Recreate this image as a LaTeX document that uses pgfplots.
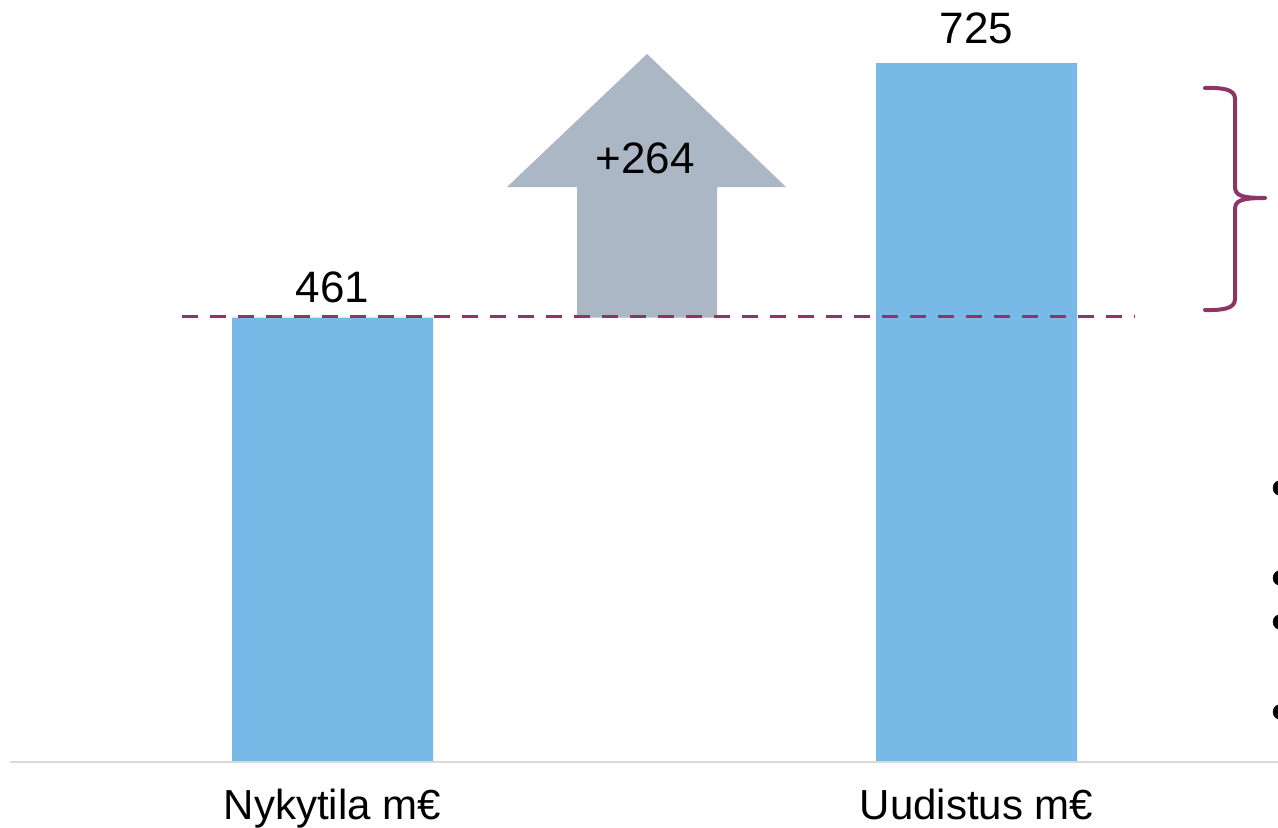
\documentclass[border=0pt]{standalone}
\usepackage{pgfplots}
\pgfplotsset{compat=1.18}
\usepackage{fontspec}
\setmainfont{Liberation Sans}
\definecolor{barblue}{HTML}{78B9E8}
\definecolor{arrowgrey}{HTML}{ABB7C5}
\definecolor{brpurple}{HTML}{8E3466}
\definecolor{axgrey}{HTML}{D9D9D9}
\begin{document}
\begin{tikzpicture}
\begin{axis}[
  scale only axis, width=958.5pt, height=621pt,
  xmin=0, xmax=1278, ymin=-68.46, ymax=790.38,
  hide axis, clip=false,
]
% arrow (increase)
\addplot[fill=arrowgrey, draw=none] coordinates {
  (577,461) (577,596.4) (507,596.4) (647,734.4) (786,596.4) (717,596.4) (717,461)} -- cycle;
% bars
\addplot[ybar, bar width=201, fill=barblue, draw=none] coordinates {(332.5,461) (976.5,725)};
% baseline
\addplot[axgrey, line width=1.5pt] coordinates {(10,0) (1278,0)};
% dashed reference line
\addplot[brpurple, line width=2.8pt, dash pattern=on 12pt off 9pt] coordinates {(182,462) (1135,462)};
% brace
\draw[brpurple, line width=3pt, line cap=round]
  (axis cs:1205,699.1) .. controls (axis cs:1222,699.6) and (axis cs:1235,698) .. (axis cs:1235,688)
  -- (axis cs:1235,597) .. controls (axis cs:1235,588) and (axis cs:1240,585) .. (axis cs:1265,585)
  (axis cs:1265,585) .. controls (axis cs:1240,585) and (axis cs:1235,582) .. (axis cs:1235,573)
  -- (axis cs:1235,480) .. controls (axis cs:1235,470) and (axis cs:1222,468.5) .. (axis cs:1205,468.8);
% bullets at right edge
\addplot[only marks, mark=*, mark size=5.6pt, black] coordinates {(1280.5,284.2) (1280.5,190.9) (1280.5,145.2) (1280.5,51.9)};
% value labels
\node[font=\fontsize{33}{38}\selectfont] at (axis cs:332.5,492.7) {461};
\node[font=\fontsize{33}{38}\selectfont] at (axis cs:976.5,761) {725};
\node[font=\fontsize{33}{38}\selectfont] at (axis cs:645,626.5) {+264};
% category labels
\node[font=\fontsize{31.5}{36}\selectfont, anchor=base, inner sep=0pt] at (axis cs:332.5,-60) {Nykytila m€};
\node[font=\fontsize{31.5}{36}\selectfont, anchor=base, inner sep=0pt] at (axis cs:976.5,-60) {Uudistus m€};
\end{axis}
\pgfresetboundingbox
\path[use as bounding box] (current axis.south west) rectangle (current axis.north east);
\end{tikzpicture}
\end{document}
